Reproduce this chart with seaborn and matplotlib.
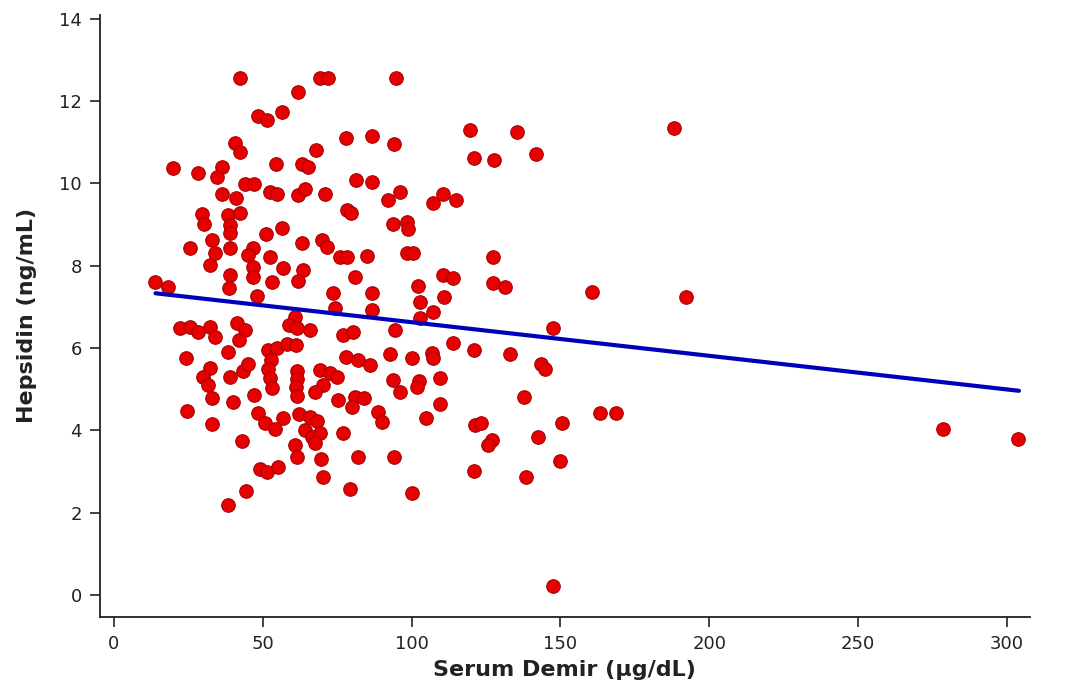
import matplotlib
matplotlib.use("Agg")
import matplotlib.pyplot as plt
import seaborn as sns
import pandas as pd

# Serum iron (µg/dL)
serum_demir = [
    42.3, 69.2, 71.9, 61.8, 48.4, 51.4, 56.4, 40.6, 42.3, 67.9,
    19.8, 28.2, 36.3, 34.6, 54.4, 63.2, 65.2, 44.0, 47.0, 36.3,
    41.0, 52.4, 54.8, 61.8, 64.2, 70.9, 29.6, 30.2, 38.3, 42.3,
    39.0, 39.0, 56.4, 51.1, 25.5, 32.9, 33.9, 39.0, 46.7, 45.0,
    52.4, 63.2, 69.9, 71.5, 94.7, 77.9, 86.7, 94.1, 119.6, 135.4,
    120.9, 127.6, 81.3, 86.7, 96.1, 92.0, 107.2, 110.5, 114.9, 78.3,
    79.6, 93.7, 98.4, 98.8, 75.9, 78.3, 85.0, 98.4, 100.4, 127.3,
    141.8, 188.1, 131.3, 160.6, 192.1,
    13.8, 18.1, 32.2, 39.0, 38.6, 46.7, 46.7, 53.1, 56.8, 63.5,
    61.8, 48.0, 81.0, 73.6, 74.2, 110.5, 113.9, 86.7, 86.7, 102.1,
    102.8, 107.2, 102.8, 110.8, 22.2, 25.5, 28.2, 32.2, 33.9, 41.3,
    44.0, 42.0, 60.8, 58.8, 61.5, 65.8, 76.9, 80.3, 94.4, 147.5,
    51.7, 54.8, 58.1, 61.1, 52.7, 51.7, 52.4, 53.1, 43.3, 45.0,
    39.0, 61.5, 61.5, 61.1, 61.5, 69.2, 72.6, 74.9, 70.2, 67.5,
    77.9, 82.0, 86.0, 24.2, 38.3, 32.2, 29.9, 31.6, 32.9, 24.5,
    32.9, 40.0, 47.0, 43.0, 48.4, 50.7, 54.1, 56.8, 62.1, 65.8,
    68.2, 64.2, 66.5, 69.2, 67.5, 60.8, 61.5, 75.2, 81.0, 84.0,
    79.9, 76.9, 69.5, 82.0, 49.0, 51.4, 55.1, 70.2, 44.3, 79.3,
    38.3, 94.1, 100.1,
    92.7, 100.1, 106.8, 107.2, 113.9, 120.9, 133.0, 93.7, 96.1, 102.5,
    101.8, 109.5, 88.7, 90.0, 109.5, 104.8, 121.3, 123.3, 127.0, 125.6,
    120.9, 143.4, 144.8, 137.7, 150.5, 163.3, 168.6, 142.4, 149.8, 138.4,
    147.5, 278.5, 303.7, 127.3,
]

# Hepcidin (ng/mL)
hepsidin = [
    12.57, 12.57, 12.57, 12.23, 11.64, 11.55, 11.74, 10.99, 10.77, 10.82,
    10.38, 10.26, 10.40, 10.16, 10.48, 10.48, 10.40, 9.99, 9.99, 9.75,
    9.65, 9.80, 9.75, 9.72, 9.87, 9.75, 9.26, 9.02, 9.24, 9.29,
    8.99, 8.80, 8.92, 8.77, 8.43, 8.63, 8.31, 8.43, 8.43, 8.26,
    8.22, 8.56, 8.63, 8.46, 12.57, 11.11, 11.16, 10.96, 11.30, 11.25,
    10.62, 10.57, 10.09, 10.04, 9.80, 9.60, 9.53, 9.75, 9.60, 9.36,
    9.29, 9.02, 9.07, 8.90, 8.22, 8.22, 8.24, 8.31, 8.31, 8.22,
    10.72, 11.35, 7.49, 7.37, 7.24,
    7.61, 7.49, 8.02, 7.78, 7.46, 7.97, 7.73, 7.61, 7.95, 7.90,
    7.63, 7.27, 7.73, 7.34, 6.98, 7.78, 7.71, 7.34, 6.93, 7.51,
    7.12, 6.88, 6.73, 7.24, 6.49, 6.51, 6.39, 6.51, 6.27, 6.61,
    6.44, 6.20, 6.76, 6.56, 6.49, 6.44, 6.32, 6.39, 6.44, 6.49,
    5.96, 6.00, 6.10, 6.08, 5.71, 5.49, 5.27, 5.03, 5.44, 5.61,
    5.30, 5.44, 5.25, 5.06, 4.84, 5.47, 5.40, 5.30, 5.10, 4.93,
    5.79, 5.71, 5.59, 5.76, 5.91, 5.52, 5.30, 5.10, 4.79, 4.47,
    4.16, 4.69, 4.86, 3.74, 4.42, 4.18, 4.04, 4.30, 4.40, 4.33,
    4.23, 4.01, 3.84, 3.94, 3.69, 3.65, 3.35, 4.74, 4.81, 4.79,
    4.57, 3.94, 3.31, 3.35, 3.06, 2.99, 3.11, 2.87, 2.53, 2.58,
    2.19, 3.35, 2.48,
    5.86, 5.76, 5.88, 5.76, 6.13, 5.96, 5.86, 5.23, 4.93, 5.20,
    5.06, 5.27, 4.45, 4.20, 4.64, 4.30, 4.13, 4.18, 3.77, 3.65,
    3.01, 5.61, 5.49, 4.81, 4.18, 4.42, 4.42, 3.84, 3.26, 2.87,
    0.22, 4.03, 3.79, 7.58,
]

# Fitted regression line endpoints as shown in the chart
fit_x = [14.0, 304.0]
fit_y = [7.33, 4.96]

x_ticks = [0, 50, 100, 150, 200, 250, 300]
y_ticks = [0, 2, 4, 6, 8, 10, 12, 14]

df = pd.DataFrame({"Serum Demir": serum_demir, "Hepsidin": hepsidin})
fit_df = pd.DataFrame({"x": fit_x, "y": fit_y})

sns.set_theme(style="ticks")
plt.rcParams["font.family"] = ["DejaVu Sans"]

fig = plt.figure(figsize=(10.74, 7.0), dpi=100)
ax = fig.add_axes([0.093, 0.119, 0.866, 0.860])

sns.scatterplot(data=df, x="Serum Demir", y="Hepsidin", ax=ax,
                color="#e60000", edgecolor="#a80000", linewidth=0.8,
                s=95, zorder=2, legend=False)
sns.lineplot(data=fit_df, x="x", y="y", ax=ax, color="#0000bb",
             linewidth=3.0, zorder=3, legend=False)

ax.set_xlim(-4.7, 307.7)
ax.set_ylim(-0.53, 14.1)
ax.set_xticks(x_ticks)
ax.set_yticks(y_ticks)
ax.tick_params(axis="both", direction="out", length=7, width=1.2,
               colors="#222222", labelsize=13, pad=6)
for sp in ["top", "right"]:
    ax.spines[sp].set_visible(False)
for sp in ["left", "bottom"]:
    ax.spines[sp].set_linewidth(1.3)
    ax.spines[sp].set_color("#222222")

ax.set_xlabel("Serum Demir (µg/dL)", fontsize=16, fontweight="bold",
              color="#222222", labelpad=5)
ax.set_ylabel("Hepsidin (ng/mL)", fontsize=16, fontweight="bold",
              color="#222222", labelpad=16)
ax.grid(False)

fig.savefig("out.png", dpi=100, facecolor="white")
